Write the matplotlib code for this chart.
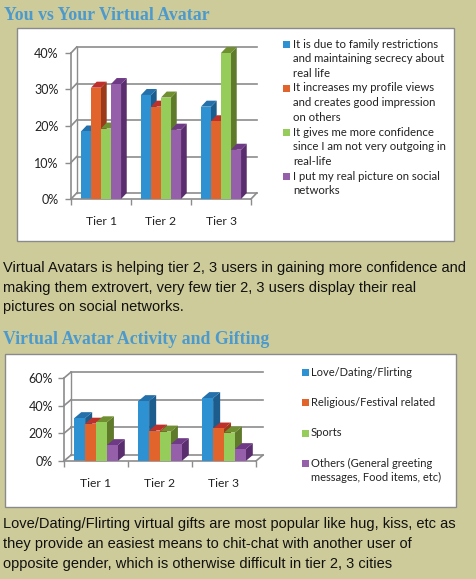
import matplotlib
matplotlib.use("Agg")
import matplotlib.pyplot as plt
from matplotlib.patches import Rectangle, Polygon
import numpy as np

W, H = 476, 579
BG = "#cdcb99"
TITLE_C = "#4c9acd"

# ---------------- data ----------------
tiers = ["Tier 1", "Tier 2", "Tier 3"]

c1_labels = ["It is due to family restrictions\nand maintaining secrecy about\nreal life",
             "It increases my profile views\nand creates good impression\non others",
             "It gives me more confidence\nsince I am not very outgoing in\nreal-life",
             "I put my real picture on social\nnetworks"]
c1_family = [18.5, 28.5, 25.3]
c1_profile = [30.5, 25.3, 21.3]
c1_confidence = [19.3, 27.8, 40.0]
c1_realpic = [31.5, 19.0, 13.5]
c1_ticks = [0, 10, 20, 30, 40]

c2_labels = ["Love/Dating/Flirting", "Religious/Festival related", "Sports",
             "Others (General greeting\nmessages, Food items, etc)"]
c2_love = [31.0, 43.3, 45.5]
c2_religious = [27.0, 22.0, 23.5]
c2_sports = [28.0, 21.3, 20.6]
c2_others = [11.5, 12.2, 8.6]
c2_ticks = [0, 20, 40, 60]

title1 = "You vs Your Virtual Avatar"
title2 = "Virtual Avatar Activity and Gifting"
para1 = ["Virtual Avatars is helping tier 2, 3 users in gaining more confidence and",
         "making them extrovert, very few tier 2, 3 users display their real",
         "pictures on social networks."]
para2 = ["Love/Dating/Flirting virtual gifts are most popular like hug, kiss, etc as",
         "they provide an easiest means to chit-chat with another user of",
         "opposite gender, which is otherwise difficult in tier 2, 3 cities"]

front_c = ["#2d91d2", "#e1642d", "#96cd5a", "#965faa"]
side_c = ["#1d5d8e", "#9a3a1a", "#5f7a2a", "#5a2d6e"]
top_c = ["#2470aa", "#c0302a", "#6f8f30", "#6e3a85"]
GRID = "#8c8c8c"
LBL_FONT = ["Lato", "DejaVu Sans"]

fig = plt.figure(figsize=(W / 100, H / 100), dpi=100)
fig.patch.set_facecolor(BG)


def fx(px):
    return px / W


def fy(py):
    return 1 - py / H


def box(x0, y0, x1, y1):
    fig.add_artist(Rectangle((fx(x0), fy(y1)), fx(x1) - fx(x0), fy(y0) - fy(y1),
                             transform=fig.transFigure, facecolor="white",
                             edgecolor="#8a8a8a", lw=1.0, zorder=0))


def chart3d(ax, series, ticks, width, dx, dy, tickfmt, ypad):
    n = len(series)
    x = np.arange(len(tiers))
    ymax = ticks[-1]
    x0, x1 = -0.5, len(tiers) - 0.5
    ax.set_xlim(x0, x1)
    ax.set_ylim(0, ymax)
    ax.patch.set_alpha(0)
    for s in ["top", "right"]:
        ax.spines[s].set_visible(False)
    for s in ["left", "bottom"]:
        ax.spines[s].set_color(GRID)
        ax.spines[s].set_linewidth(1.2)
    # back wall + left wall
    for v in ticks:
        ax.plot([x0, x0 + dx], [v, v + dy], color=GRID, lw=1.2, clip_on=False, zorder=1)
        ax.plot([x0 + dx, x1 + dx], [v + dy, v + dy], color=GRID, lw=1.2, clip_on=False, zorder=1)
    ax.plot([x0 + dx, x0 + dx], [dy, ymax + dy], color=GRID, lw=1.0, clip_on=False, zorder=1)
    ax.plot([x1, x1 + dx], [0, dy], color=GRID, lw=1.2, clip_on=False, zorder=1)
    # bars
    z = 2
    for i in range(len(tiers)):
        start = i - n * width / 2
        for k, vals in enumerate(series):
            h = vals[i]
            bx0 = start + k * width
            bx1 = bx0 + width
            side = Polygon([(bx1, 0), (bx1 + dx, dy), (bx1 + dx, h + dy), (bx1, h)],
                           closed=True, facecolor=side_c[k], edgecolor="none", zorder=z, clip_on=False)
            top = Polygon([(bx0, h), (bx0 + dx, h + dy), (bx1 + dx, h + dy), (bx1, h)],
                          closed=True, facecolor=top_c[k], edgecolor="none", zorder=z, clip_on=False)
            ax.add_patch(side)
            ax.add_patch(top)
            ax.bar([bx0], [h], width=width, align="edge", color=front_c[k],
                   edgecolor="none", zorder=z + 0.5, clip_on=False)
            z += 1
    ax.set_yticks(ticks)
    ax.set_yticklabels([tickfmt(t) for t in ticks], family=LBL_FONT, fontsize=9, color="#222222")
    ax.set_xticks(x)
    ax.set_xticklabels(tiers, family=LBL_FONT, fontsize=8.7, color="#222222")
    ax.set_xticks(np.arange(len(tiers) + 1) - 0.5, minor=True)
    ax.tick_params(axis="x", which="major", length=0, pad=12)
    ax.tick_params(axis="x", which="minor", length=4, color=GRID, width=1.0)
    ax.tick_params(axis="y", length=4, color=GRID, width=1.0, pad=ypad)


def legend(x_sq, x_txt, ys, labels, fs, line_px):
    for k, (lab, yy) in enumerate(zip(labels, ys)):
        fig.add_artist(Rectangle((fx(x_sq), fy(yy + 3.5)), fx(6.5), 6.5 / H,
                                 transform=fig.transFigure, facecolor=front_c[k],
                                 edgecolor="none"))
        for j, line in enumerate(lab.split("\n")):
            fig.text(fx(x_txt), fy(yy + j * line_px), line, family=LBL_FONT, fontsize=fs,
                     va="center", ha="left", color="#222222")


# ---------------- titles & paragraphs ----------------
fig.text(fx(4), fy(16), title1, family="Liberation Serif", weight="bold", fontsize=12.8,
         color=TITLE_C, va="center", ha="left")
fig.text(fx(3), fy(340), title2, family="Liberation Serif", weight="bold", fontsize=12.8,
         color=TITLE_C, va="center", ha="left")
for j, line in enumerate(para1):
    fig.text(fx(3), fy(268 + j * 19.5), line, family="Liberation Sans", fontsize=10.5,
             color="#111111", va="center", ha="left")
for j, line in enumerate(para2):
    fig.text(fx(3), fy(524 + j * 20), line, family="Liberation Sans", fontsize=10.5,
             color="#111111", va="center", ha="left")

# ---------------- chart 1 ----------------
box(17, 28, 454, 241)
ax1 = fig.add_axes([fx(71), fy(199), fx(251) - fx(71), fy(53) - fy(199)])
chart3d(ax1, [c1_family, c1_profile, c1_confidence, c1_realpic], c1_ticks,
        width=0.167, dx=0.095, dy=1.64, tickfmt=lambda t: f"{t}%", ypad=5)
legend(283, 293, [44, 88, 132, 176], c1_labels, 8.2, 14.6)

# ---------------- chart 2 ----------------
box(5, 354, 456, 507)
ax2 = fig.add_axes([fx(64), fy(461), fx(256) - fx(64), fy(378) - fy(461)])
chart3d(ax2, [c2_love, c2_religious, c2_sports, c2_others], c2_ticks,
        width=0.17, dx=0.11, dy=4.3, tickfmt=lambda t: f"{t}%", ypad=4)
legend(302, 311, [372, 402, 433, 463], c2_labels, 8.0, 14.5)

fig.savefig("out.png", dpi=100, facecolor=BG)
